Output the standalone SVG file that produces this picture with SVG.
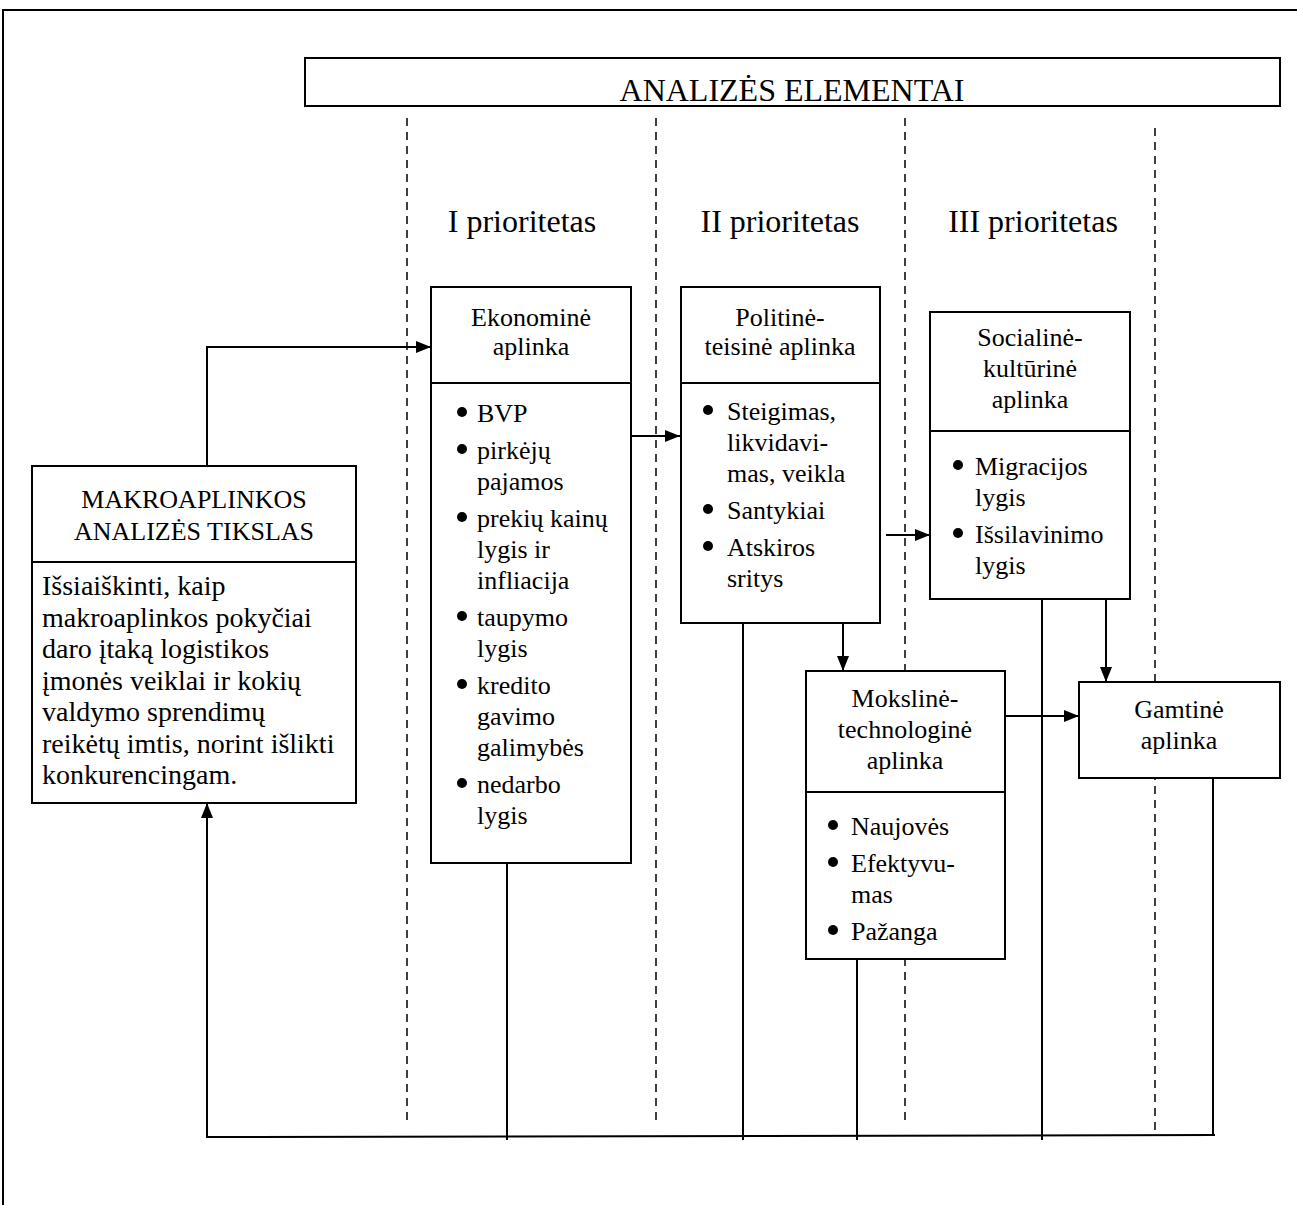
<svg xmlns="http://www.w3.org/2000/svg" width="1297" height="1205" viewBox="0 0 1297 1205">
<defs>
<style>
.box{fill:#fff;stroke:#000;stroke-width:2}
.ln{stroke:#000;stroke-width:2;fill:none}
.dash{stroke:#000;stroke-width:1.5;stroke-dasharray:8 6;fill:none}
.t{font-family:"Liberation Serif","Times New Roman",serif;font-size:26px;fill:#000}
.c{text-anchor:middle}
.big{font-size:32px}
.body{font-size:28px}
.dot{fill:#000}
</style>
<marker id="ah" markerUnits="userSpaceOnUse" markerWidth="15" markerHeight="12" refX="15" refY="6" orient="auto">
<path d="M0,0 L15,6 L0,12 z" fill="#000"/>
</marker>
</defs>
<rect width="1297" height="1205" fill="#fff"/>
<g id="frame">
<path class="ln" d="M3,1205 V10 H1297"/>
</g>
<g id="header">
<rect class="box" x="305" y="58" width="975" height="48"/>
<text class="t c big" x="792" y="101">ANALIZĖS ELEMENTAI</text>
</g>
<g id="dividers">
<line class="dash" x1="407" y1="118" x2="407" y2="1120"/>
<line class="dash" x1="656" y1="118" x2="656" y2="1120"/>
<line class="dash" x1="905" y1="118" x2="905" y2="1120"/>
<line class="dash" x1="1155" y1="128" x2="1155" y2="1133"/>
</g>
<g id="labels">
<text class="t c big" x="522" y="232">I prioritetas</text>
<text class="t c big" x="780" y="232">II prioritetas</text>
<text class="t c big" x="1033" y="232">III prioritetas</text>
</g>
<g id="connectors">
<path class="ln" d="M207,466 V347 H431" marker-end="url(#ah)"/>
<line class="ln" x1="632" y1="436" x2="680" y2="436" marker-end="url(#ah)"/>
<line class="ln" x1="886" y1="535" x2="930" y2="535" marker-end="url(#ah)"/>
<line class="ln" x1="843" y1="623" x2="843" y2="671" marker-end="url(#ah)"/>
<line class="ln" x1="1106" y1="599" x2="1106" y2="682" marker-end="url(#ah)"/>
<line class="ln" x1="1005" y1="716" x2="1079" y2="716" marker-end="url(#ah)"/>
<line class="ln" x1="507" y1="863" x2="507" y2="1140"/>
<line class="ln" x1="743" y1="623" x2="743" y2="1140"/>
<line class="ln" x1="857" y1="959" x2="857" y2="1140"/>
<line class="ln" x1="1042" y1="599" x2="1042" y2="1140"/>
<line class="ln" x1="1213" y1="778" x2="1213" y2="1136"/>
<path class="ln" d="M1215,1135 L207,1137 V803" marker-end="url(#ah)"/>
</g>
<g id="tikslas">
<rect class="box" x="32" y="466" width="324" height="337"/>
<line class="ln" x1="32" y1="562" x2="356" y2="562"/>
<text class="t c" x="194" y="508">MAKROAPLINKOS</text>
<text class="t c" x="194" y="540">ANALIZĖS TIKSLAS</text>
<text class="t body" x="42" y="595">Išsiaiškinti, kaip</text>
<text class="t body" x="42" y="626.5">makroaplinkos pokyčiai</text>
<text class="t body" x="42" y="658">daro įtaką logistikos</text>
<text class="t body" x="42" y="689.5">įmonės veiklai ir kokių</text>
<text class="t body" x="42" y="721">valdymo sprendimų</text>
<text class="t body" x="42" y="752.5">reikėtų imtis, norint išlikti</text>
<text class="t body" x="42" y="784">konkurencingam.</text>
</g>
<g id="ekonomine">
<rect class="box" x="431" y="287" width="200" height="576"/>
<line class="ln" x1="431" y1="383" x2="631" y2="383"/>
<text class="t c" x="531" y="326">Ekonominė</text>
<text class="t c" x="531" y="355">aplinka</text>
<circle class="dot" cx="462" cy="412" r="5"/>
<text class="t" x="477" y="422">BVP</text>
<circle class="dot" cx="462" cy="449" r="5"/>
<text class="t" x="477" y="459">pirkėjų</text>
<text class="t" x="477" y="490">pajamos</text>
<circle class="dot" cx="462" cy="517" r="5"/>
<text class="t" x="477" y="527">prekių kainų</text>
<text class="t" x="477" y="558">lygis ir</text>
<text class="t" x="477" y="589">infliacija</text>
<circle class="dot" cx="462" cy="616" r="5"/>
<text class="t" x="477" y="626">taupymo</text>
<text class="t" x="477" y="657">lygis</text>
<circle class="dot" cx="462" cy="684" r="5"/>
<text class="t" x="477" y="694">kredito</text>
<text class="t" x="477" y="725">gavimo</text>
<text class="t" x="477" y="756">galimybės</text>
<circle class="dot" cx="462" cy="783" r="5"/>
<text class="t" x="477" y="793">nedarbo</text>
<text class="t" x="477" y="824">lygis</text>
</g>
<g id="politine">
<rect class="box" x="681" y="287" width="199" height="336"/>
<line class="ln" x1="681" y1="383" x2="880" y2="383"/>
<text class="t c" x="780" y="326">Politinė-</text>
<text class="t c" x="780" y="355">teisinė aplinka</text>
<circle class="dot" cx="708" cy="410" r="5"/>
<text class="t" x="727" y="420">Steigimas,</text>
<text class="t" x="727" y="451">likvidavi-</text>
<text class="t" x="727" y="482">mas, veikla</text>
<circle class="dot" cx="708" cy="509" r="5"/>
<text class="t" x="727" y="519">Santykiai</text>
<circle class="dot" cx="708" cy="546" r="5"/>
<text class="t" x="727" y="556">Atskiros</text>
<text class="t" x="727" y="587">sritys</text>
</g>
<g id="socialine">
<rect class="box" x="930" y="312" width="200" height="287"/>
<line class="ln" x1="930" y1="431" x2="1130" y2="431"/>
<text class="t c" x="1030" y="346">Socialinė-</text>
<text class="t c" x="1030" y="377">kultūrinė</text>
<text class="t c" x="1030" y="408">aplinka</text>
<circle class="dot" cx="958" cy="465" r="5"/>
<text class="t" x="975" y="475">Migracijos</text>
<text class="t" x="975" y="506">lygis</text>
<circle class="dot" cx="958" cy="533" r="5"/>
<text class="t" x="975" y="543">Išsilavinimo</text>
<text class="t" x="975" y="574">lygis</text>
</g>
<g id="moksline">
<rect class="box" x="806" y="671" width="199" height="288"/>
<line class="ln" x1="806" y1="792" x2="1005" y2="792"/>
<text class="t c" x="905" y="707">Mokslinė-</text>
<text class="t c" x="905" y="738">technologinė</text>
<text class="t c" x="905" y="769">aplinka</text>
<circle class="dot" cx="833" cy="825" r="5"/>
<text class="t" x="851" y="835">Naujovės</text>
<circle class="dot" cx="833" cy="862" r="5"/>
<text class="t" x="851" y="872">Efektyvu-</text>
<text class="t" x="851" y="903">mas</text>
<circle class="dot" cx="833" cy="930" r="5"/>
<text class="t" x="851" y="940">Pažanga</text>
</g>
<g id="gamtine">
<rect class="box" x="1079" y="682" width="201" height="96"/>
<text class="t c" x="1179" y="718">Gamtinė</text>
<text class="t c" x="1179" y="749">aplinka</text>
</g>
</svg>
